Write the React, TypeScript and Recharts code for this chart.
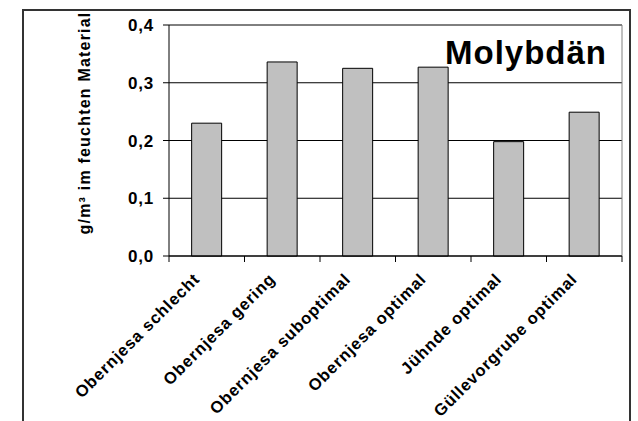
import React from 'react';
import { BarChart, Bar, XAxis, YAxis, CartesianGrid, ReferenceLine } from 'recharts';

const categories = [
  'Obernjesa schlecht',
  'Obernjesa gering',
  'Obernjesa suboptimal',
  'Obernjesa optimal',
  'Jühnde optimal',
  'Güllevorgrube optimal',
];
const values = [0.23, 0.336, 0.325, 0.327, 0.198, 0.249];
const yTicks = [0, 0.1, 0.2, 0.3, 0.4];
const title = 'Molybdän';
const yLabel = 'g/m³ im feuchten Material';

const data = categories.map((name, i) => ({ name, value: values[i] }));
const FONT = '"Liberation Sans", Arial, Helvetica, sans-serif';

const XTick = (props: any) => {
  const { x, y, payload, index } = props;
  const off = payload && payload.offset ? payload.offset : 0;
  const tx = x - 6;
  const ty = y + 24;
  return (
    <g>
      <line x1={x - off} x2={x - off} y1={y} y2={y + 6} stroke="#000" strokeWidth={1} />
      {index === categories.length - 1 && (
        <line x1={x + off} x2={x + off} y1={y} y2={y + 6} stroke="#000" strokeWidth={1} />
      )}
      <text
        x={tx}
        y={ty}
        transform={`rotate(-45, ${tx}, ${ty})`}
        textAnchor="end"
        fontFamily={FONT}
        fontWeight="bold"
        fontSize={16.5}
        letterSpacing={0.9}
        fill="#000"
      >
        {payload.value}
      </text>
    </g>
  );
};

export default function App() {
  return (
    <div style={{ position: 'absolute', left: 0, top: 0, width: 638, height: 421, background: '#fff' }}>
      <BarChart
        width={638}
        height={421}
        data={data}
        margin={{ top: 25, right: 16, left: 109, bottom: 0 }}
        barCategoryGap="30%"
      >
        <CartesianGrid vertical={false} stroke="#000" strokeWidth={1} />
        <CartesianGrid
          horizontal={false}
          stroke="#808080"
          verticalCoordinatesGenerator={({ offset }: any) => [offset.left + offset.width]}
        />
        <XAxis
          dataKey="name"
          height={165}
          interval={0}
          tickLine={false}
          tickSize={0}
          tickMargin={0}
          axisLine={{ stroke: '#000', strokeWidth: 1 }}
          tick={<XTick />}
        />
        <YAxis
          width={60}
          domain={[0, 0.4]}
          ticks={yTicks}
          interval={0}
          tickSize={6}
          tickMargin={9}
          axisLine={{ stroke: '#000', strokeWidth: 1 }}
          tickLine={{ stroke: '#000', strokeWidth: 1 }}
          tickFormatter={(v: number) => v.toFixed(1).replace('.', ',')}
          tick={{ fontFamily: FONT, fontWeight: 'bold', fontSize: 17, fill: '#000', letterSpacing: 0.8 }}
        />
        <ReferenceLine y={0.4} stroke="#808080" strokeWidth={1} />
        <Bar dataKey="value" fill="#c0c0c0" stroke="#000" strokeWidth={1} isAnimationActive={false} />
      </BarChart>
      <svg
        width={638}
        height={421}
        style={{ position: 'absolute', left: 0, top: 0, pointerEvents: 'none' }}
      >
        <rect x={23} y={10} width={607} height={440} fill="none" stroke="#333" strokeWidth={2} />
        <text
          x={445}
          y={64}
          fontFamily={FONT}
          fontWeight="bold"
          fontSize={33}
          letterSpacing={1}
          fill="#000"
        >
          {title}
        </text>
        <text
          x={84}
          y={123}
          transform="rotate(-90, 84, 123)"
          textAnchor="middle"
          dominantBaseline="central"
          fontFamily={FONT}
          fontWeight="bold"
          fontSize={16}
          letterSpacing={1.2}
          fill="#000"
        >
          {yLabel}
        </text>
      </svg>
    </div>
  );
}
